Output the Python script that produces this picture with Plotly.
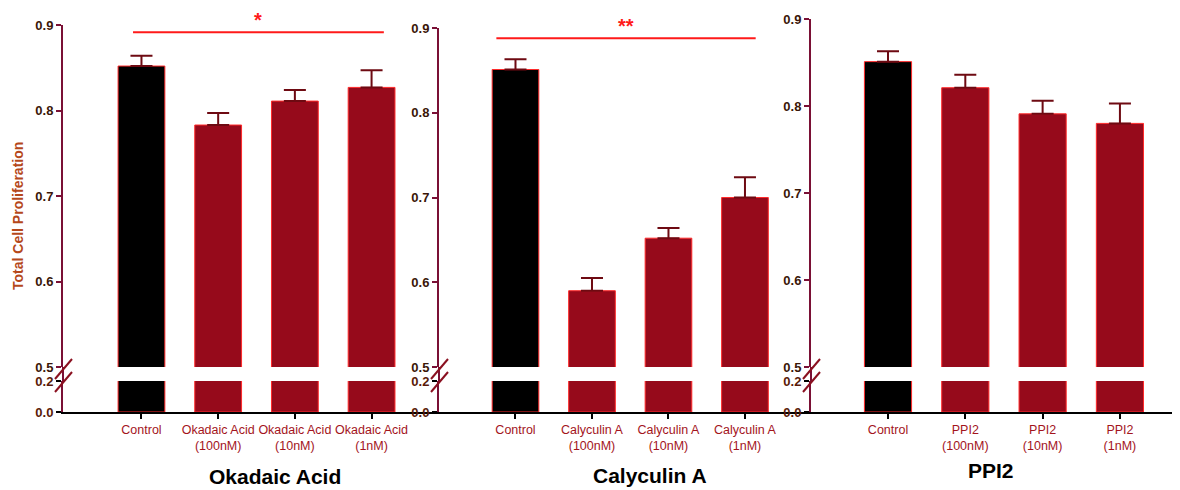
import plotly.graph_objects as go

# page body adds an 8px margin, so the figure is drawn 8px in from the window edge
OFF = 8
W, H = 1180 - OFF, 490 - OFF

# ---------------- data ----------------
panel_titles = ["Okadaic Acid", "Calyculin A", "PPI2"]
cat_labels = [
    ["Control", "Okadaic Acid<br>(100nM)", "Okadaic Acid<br>(10nM)", "Okadaic Acid<br>(1nM)"],
    ["Control", "Calyculin A<br>(100nM)", "Calyculin A<br>(10nM)", "Calyculin A<br>(1nM)"],
    ["Control", "PPI2<br>(100nM)", "PPI2<br>(10nM)", "PPI2<br>(1nM)"],
]
okadaic_vals = [0.852, 0.783, 0.811, 0.827]
okadaic_err = [0.012, 0.014, 0.013, 0.020]
calyculin_vals = [0.851, 0.590, 0.652, 0.700]
calyculin_err = [0.012, 0.015, 0.012, 0.024]
ppi2_vals = [0.851, 0.821, 0.791, 0.780]
ppi2_err = [0.012, 0.015, 0.015, 0.023]
values = [okadaic_vals, calyculin_vals, ppi2_vals]
errors = [okadaic_err, calyculin_err, ppi2_err]

upper_ticks = [0.5, 0.6, 0.7, 0.8, 0.9]
upper_ticktext = ["0.5", "0.6", "0.7", "0.8", "0.9"]
lower_ticks = [0.0, 0.2]
lower_ticktext = ["0.0", "0.2"]

sig_labels = ["*", "**", None]
sig_y = [0.8915, 0.888, None]
sig_x0 = [-0.11, -0.25, None]
sig_x1 = [3.16, 3.14, None]

# ---------------- layout geometry (window pixels) ----------------
def px_x(p):
    return (p - OFF) / W

def px_y(p):
    return 1 - (p - OFF) / H

yaxis_px = [63, 439, 811]
xend_px = [437, 809, 1180]
top09_px = [25, 28, 19]
y05_px = 367
y02_px = 381
y00_px = 412
xranges = [[-1.023, 3.853], [-1.0, 3.837], [-0.996, 3.777]]
title_pos = [(275, 476), (650, 475), (991, 470)]

ctrl_color = "#000000"
treat_color = "#960a1b"
outline = "#ff2a2a"
err_color = "#6e0a12"
axis_red = "#7a1035"
tick_font = dict(family="Liberation Sans", size=13, color="#3a1608")
cat_font = dict(family="Liberation Sans", size=12.5, color="#a3141c")

fig = go.Figure()
layout = dict(
    width=W, height=H, margin=dict(l=0, r=0, t=0, b=0, autoexpand=False), autosize=False,
    plot_bgcolor="white", paper_bgcolor="white", showlegend=False,
)
shapes = []
annotations = []

for i in range(3):
    xa = "x" if i == 0 else f"x{i+1}"
    yu = f"y{2*i+1}" if i > 0 else "y"
    yl = f"y{2*i+2}"
    yu_name = "yaxis" if i == 0 else f"yaxis{2*i+1}"
    yl_name = f"yaxis{2*i+2}"
    xa_name = "xaxis" if i == 0 else f"xaxis{i+1}"
    cats = cat_labels[i]
    colors = [ctrl_color] + [treat_color] * 3
    for ya, with_err in ((yu, True), (yl, False)):
        fig.add_trace(go.Bar(
            x=cats, y=values[i], xaxis=xa, yaxis=ya,
            marker=dict(color=colors, line=dict(color=outline, width=1)),
            width=0.61,
            error_y=dict(type="data", array=errors[i], arrayminus=[0]*4, symmetric=False,
                         color=err_color, thickness=2, width=11, visible=with_err),
            hoverinfo="skip",
        ))
    dom_x = [px_x(yaxis_px[i]), min(1.0, px_x(xend_px[i]))]
    layout[xa_name] = dict(
        domain=dom_x, anchor=yl, type="category", range=xranges[i], automargin=False,
        showline=True, linecolor="black", linewidth=2,
        ticks="outside", ticklen=5, tickcolor="black", tickwidth=1.5,
        tickfont=cat_font, showgrid=False, zeroline=False, fixedrange=True,
    )
    layout[yu_name] = dict(
        domain=[px_y(y05_px), px_y(top09_px[i])], anchor=xa, range=[0.5, 0.9], automargin=False,
        tickvals=upper_ticks, ticktext=[f"<b>{t}</b>" for t in upper_ticktext], tickfont=tick_font,
        showline=True, linecolor=axis_red, linewidth=2,
        ticks="outside", ticklen=5, tickcolor=axis_red, tickwidth=1.5,
        showgrid=False, zeroline=False, fixedrange=True,
    )
    layout[yl_name] = dict(
        domain=[px_y(y00_px), px_y(y02_px)], anchor=xa, range=[0, 0.2], automargin=False,
        tickvals=lower_ticks, ticktext=[f"<b>{t}</b>" for t in lower_ticktext],
        tickfont=dict(tick_font, color="#5a1a08"),
        showline=True, linecolor=axis_red, linewidth=2,
        ticks="outside", ticklen=5, tickcolor="black", tickwidth=1.5,
        showgrid=False, zeroline=False, fixedrange=True,
    )
    # connect axis line across the break
    ax = px_x(yaxis_px[i])
    shapes.append(dict(type="line", xref="paper", yref="paper",
                       x0=ax, x1=ax, y0=px_y(y05_px), y1=px_y(y02_px),
                       line=dict(color=axis_red, width=2)))
    # break marks
    for cy in (y05_px + 2, y02_px + 1):
        shapes.append(dict(type="line", xref="paper", yref="paper",
                           x0=px_x(yaxis_px[i] - 8), x1=px_x(yaxis_px[i] + 9),
                           y0=px_y(cy + 10), y1=px_y(cy - 10),
                           line=dict(color="#8a1020", width=2)))
    # significance bar
    if sig_labels[i]:
        shapes.append(dict(type="line", xref=xa, yref=yu,
                           x0=sig_x0[i], x1=sig_x1[i], y0=sig_y[i], y1=sig_y[i],
                           line=dict(color="#ff1a1a", width=2)))
        annotations.append(dict(xref=xa, yref=yu, x=(sig_x0[i] + sig_x1[i]) / 2, y=sig_y[i],
                                xanchor="center", yanchor="middle",
                                yshift=12, text=f"<b>{sig_labels[i]}</b>", showarrow=False,
                                font=dict(family="Liberation Sans", size=20, color="#ff1a1a")))
    # panel title
    tx, ty = title_pos[i]
    annotations.append(dict(xref="paper", yref="paper", x=px_x(tx), y=px_y(ty),
                            xanchor="center", yanchor="middle",
                            text=f"<b>{panel_titles[i]}</b>", showarrow=False,
                            font=dict(family="Liberation Sans", size=21, color="black")))

annotations.append(dict(xref="paper", yref="paper", x=px_x(18), y=px_y(216),
                        xanchor="center", yanchor="middle",
                        text="<b>Total Cell Proliferation</b>", textangle=-90, showarrow=False,
                        font=dict(family="Liberation Sans", size=14, color="#b5481a")))

layout["shapes"] = shapes
layout["annotations"] = annotations
fig.update_layout(**layout)
fig.write_html("out.html")
